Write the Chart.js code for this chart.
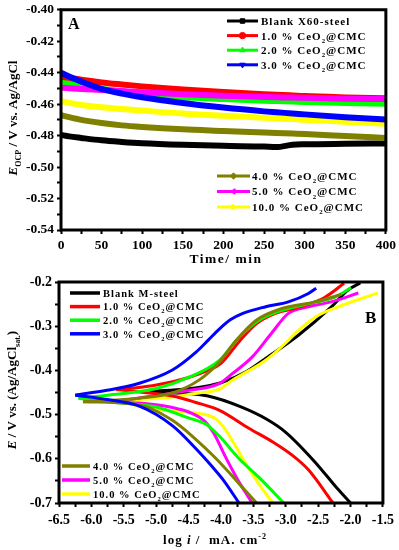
<!DOCTYPE html>
<html>
<head>
<meta charset="utf-8">
<script src="https://cdn.jsdelivr.net/npm/chart.js@4.4.0/dist/chart.umd.min.js"></script>
<style>
  html, body { margin: 0; padding: 0; background: #fff; }
  #wrap { position: relative; width: 399px; height: 550px; }
  canvas { position: absolute; left: 0; }
  #chartA { top: 0; }
  #chartB { top: 270px; }
</style>
</head>
<body>
<div id="wrap">
  <canvas id="chartA" width="399" height="270"></canvas>
  <canvas id="chartB" width="399" height="280"></canvas>
</div>
<script>
// ---- panel A: OCP vs time ----
var timeMin = [0, 10, 25, 50, 75, 100, 150, 200, 250, 265, 285, 300, 350, 400];
var ocpBlank = [-0.4795, -0.4805, -0.4815, -0.4830, -0.4840, -0.4848, -0.4858, -0.4865, -0.4870, -0.4873, -0.4858, -0.4855, -0.4852, -0.4850];
var ocp1 = [-0.4425, -0.4432, -0.4445, -0.4462, -0.4475, -0.4487, -0.4507, -0.4523, -0.4537, -0.4540, -0.4545, -0.4549, -0.4557, -0.4563];
var ocp2 = [-0.4455, -0.4465, -0.4480, -0.4503, -0.4518, -0.4532, -0.4555, -0.4568, -0.4578, -0.4580, -0.4583, -0.4586, -0.4592, -0.4597];
var ocp3 = [-0.4400, -0.4425, -0.4457, -0.4503, -0.4533, -0.4556, -0.4593, -0.4622, -0.4646, -0.4652, -0.4659, -0.4665, -0.4683, -0.4698];
var ocp4 = [-0.4670, -0.4683, -0.4700, -0.4720, -0.4735, -0.4745, -0.4760, -0.4770, -0.4780, -0.4783, -0.4787, -0.4790, -0.4803, -0.4815];
var ocp5 = [-0.4495, -0.4499, -0.4504, -0.4510, -0.4517, -0.4524, -0.4537, -0.4547, -0.4554, -0.4556, -0.4558, -0.4560, -0.4565, -0.4568];
var ocp10 = [-0.4580, -0.4592, -0.4605, -0.4620, -0.4631, -0.4641, -0.4660, -0.4674, -0.4686, -0.4690, -0.4695, -0.4699, -0.4712, -0.4725];

// ---- panel B: Tafel curves, [log i, E] from E_corr outwards ----
var blankAnodic = [[-5.10, -0.447], [-4.8, -0.445], [-4.4, -0.440], [-4.0, -0.428], [-3.6, -0.402], [-3.3, -0.372], [-2.8, -0.320], [-2.3, -0.257], [-2.04, -0.218], [-1.85, -0.202]];
var blankCathodic = [[-5.10, -0.447], [-4.7, -0.451], [-4.2, -0.458], [-3.7, -0.482], [-3.3, -0.510], [-3.0, -0.540], [-2.55, -0.607], [-2.2, -0.668], [-2.0, -0.700]];
var ce1Anodic = [[-5.62, -0.443], [-5.3, -0.439], [-5.0, -0.433], [-4.5, -0.416], [-4.2, -0.400], [-4.0, -0.384], [-3.72, -0.335], [-3.46, -0.295], [-3.16, -0.271], [-2.8, -0.257], [-2.4, -0.235], [-2.1, -0.203]];
var ce1Cathodic = [[-5.62, -0.443], [-5.25, -0.449], [-4.75, -0.458], [-4.4, -0.472], [-4.03, -0.490], [-3.57, -0.531], [-3.2, -0.562], [-2.9, -0.592], [-2.65, -0.625], [-2.27, -0.700]];
var ce2Anodic = [[-6.2, -0.463], [-5.76, -0.456], [-5.0, -0.441], [-4.5, -0.416], [-4.03, -0.378], [-3.72, -0.325], [-3.42, -0.287], [-3.06, -0.264], [-2.65, -0.249], [-2.24, -0.234], [-1.99, -0.213]];
var ce2Cathodic = [[-6.2, -0.463], [-5.76, -0.471], [-5.0, -0.483], [-4.49, -0.508], [-4.23, -0.522], [-4.03, -0.548], [-3.72, -0.600], [-3.42, -0.641], [-3.03, -0.700]];
var ce3Anodic = [[-6.25, -0.456], [-5.76, -0.445], [-5.26, -0.429], [-4.75, -0.399], [-4.38, -0.358], [-4.2, -0.332], [-4.03, -0.307], [-3.85, -0.285], [-3.68, -0.272], [-3.31, -0.256], [-2.96, -0.245], [-2.65, -0.226], [-2.53, -0.214]];
var ce3Cathodic = [[-6.25, -0.456], [-5.76, -0.466], [-5.26, -0.481], [-4.75, -0.525], [-4.4, -0.575], [-4.14, -0.617], [-3.98, -0.645], [-3.72, -0.700]];
var ce4Anodic = [[-6.13, -0.471], [-5.26, -0.463], [-4.75, -0.451], [-4.34, -0.422], [-4.03, -0.382], [-3.77, -0.333], [-3.46, -0.287], [-3.06, -0.260], [-2.54, -0.245], [-2.14, -0.228]];
var ce4Cathodic = [[-6.13, -0.471], [-5.26, -0.478], [-4.75, -0.513], [-4.38, -0.557], [-4.1, -0.596], [-3.85, -0.635], [-3.65, -0.668], [-3.45, -0.700]];
var ce5Anodic = [[-5.69, -0.471], [-5.0, -0.457], [-4.49, -0.445], [-4.03, -0.430], [-3.83, -0.408], [-3.52, -0.370], [-3.22, -0.316], [-2.96, -0.271], [-2.65, -0.256], [-2.30, -0.245], [-1.88, -0.225]];
var ce5Cathodic = [[-5.69, -0.471], [-5.26, -0.474], [-4.75, -0.484], [-4.45, -0.497], [-4.25, -0.515], [-4.1, -0.545], [-3.95, -0.590], [-3.75, -0.645], [-3.52, -0.700]];
var ce10Anodic = [[-5.55, -0.468], [-4.75, -0.460], [-4.34, -0.451], [-4.03, -0.443], [-3.83, -0.423], [-3.31, -0.377], [-3.0, -0.338], [-2.8, -0.309], [-2.54, -0.279], [-2.19, -0.256], [-1.58, -0.225]];
var ce10Cathodic = [[-5.55, -0.468], [-5.26, -0.482], [-4.75, -0.492], [-4.4, -0.496], [-4.1, -0.508], [-3.95, -0.530], [-3.8, -0.565], [-3.6, -0.615], [-3.4, -0.660], [-3.2, -0.700]];

var FONT = '"Liberation Serif", "Times New Roman", serif';

var seriesA = [
    {label: 'Blank X60-steel', values: ocpBlank, color: '#000000', marker: 'rect', rot: 0, order: 7},
    {label: '1.0 % CeO2@CMC', values: ocp1, color: '#ff0000', marker: 'circle', rot: 0, order: 3},
    {label: '2.0 % CeO2@CMC', values: ocp2, color: '#00ff00', marker: 'triangle', rot: 0, order: 4},
    {label: '3.0 % CeO2@CMC', values: ocp3, color: '#0000ff', marker: 'triangle', rot: 180, order: 1},
    {label: '4.0 % CeO2@CMC', values: ocp4, color: '#808000', marker: 'rectRot', rot: 0, order: 6},
    {label: '5.0 % CeO2@CMC', values: ocp5, color: '#ff00ff', marker: 'triangle', rot: -90, order: 2},
    {label: '10.0 % CeO2@CMC', values: ocp10, color: '#ffff00', marker: 'triangle', rot: 90, order: 5}
];

var seriesB = [
    {label: 'Blank M-steel', an: blankAnodic, ca: blankCathodic, color: '#000000', order: 7},
    {label: '1.0 % CeO2@CMC', an: ce1Anodic, ca: ce1Cathodic, color: '#ff0000', order: 4},
    {label: '2.0 % CeO2@CMC', an: ce2Anodic, ca: ce2Cathodic, color: '#00ff00', order: 3},
    {label: '3.0 % CeO2@CMC', an: ce3Anodic, ca: ce3Cathodic, color: '#0000ff', order: 1},
    {label: '4.0 % CeO2@CMC', an: ce4Anodic, ca: ce4Cathodic, color: '#808000', order: 2},
    {label: '5.0 % CeO2@CMC', an: ce5Anodic, ca: ce5Cathodic, color: '#ff00ff', order: 5},
    {label: '10.0 % CeO2@CMC', an: ce10Anodic, ca: ce10Cathodic, color: '#ffff00', order: 6}
];

// text helpers (subscripts / italics)
function partFont(style, size) {
    var small = style === 'sub' || style === 'sup';
    return (style === 'i' ? 'italic ' : '') + 'bold ' + (small ? size * 0.62 : size) + 'px ' + FONT;
}
function richWidth(ctx, parts, size) {
    var w = 0;
    parts.forEach(function (p) {
        ctx.font = partFont(p[1], size);
        w += ctx.measureText(p[0]).width;
    });
    return w;
}
function drawRich(ctx, parts, x, y, size) {
    parts.forEach(function (p) {
        ctx.font = partFont(p[1], size);
        var dy = p[1] === 'sub' ? size * 0.28 : (p[1] === 'sup' ? -size * 0.4 : 0);
        ctx.fillText(p[0], x, y + dy);
        x += ctx.measureText(p[0]).width;
    });
}
function labelParts(label) {
    var i = label.indexOf('CeO2');
    if (i < 0) return [[label, '']];
    return [[label.slice(0, i + 3), ''], ['2', 'sub'], [label.slice(i + 4), '']];
}

function decorPlugin(opts) {
    return {
        id: 'decor',
        afterDraw: function (chart) {
            var ctx = chart.ctx, a = chart.chartArea;
            ctx.save();
            ctx.strokeStyle = '#000';
            ctx.lineWidth = 3;
            ctx.strokeRect(a.left, a.top, a.right - a.left, a.bottom - a.top);

            ctx.fillStyle = '#000';
            ctx.textAlign = 'left';
            ctx.textBaseline = 'alphabetic';
            ctx.letterSpacing = '0px';
            ctx.font = 'bold ' + opts.letter.size + 'px ' + FONT;
            ctx.fillText(opts.letter.text, opts.letter.x, opts.letter.y);

            var t = opts.xTitle;
            ctx.letterSpacing = t.spacing;
            var w = richWidth(ctx, t.parts, t.size);
            drawRich(ctx, t.parts, t.x - w / 2, t.y, t.size);

            t = opts.yTitle;
            ctx.save();
            ctx.translate(t.x, t.y);
            ctx.rotate(-Math.PI / 2);
            ctx.letterSpacing = t.spacing;
            w = richWidth(ctx, t.parts, t.size);
            drawRich(ctx, t.parts, -w / 2, 0, t.size);
            ctx.restore();

            opts.legends.forEach(function (g) {
                g.items.forEach(function (idx, r) {
                    var s = opts.series[idx];
                    var y = g.y0 + r * g.dy;
                    ctx.strokeStyle = s.color;
                    ctx.fillStyle = s.color;
                    ctx.lineWidth = g.lw;
                    ctx.beginPath();
                    ctx.moveTo(g.x0, y);
                    ctx.lineTo(g.x1, y);
                    ctx.stroke();
                    if (s.marker) {
                        ctx.lineWidth = 1;
                        Chart.helpers.drawPoint(ctx, {pointStyle: s.marker, rotation: s.rot, radius: 3.2, borderWidth: 1}, (g.x0 + g.x1) / 2, y);
                    }
                    ctx.fillStyle = '#000';
                    ctx.letterSpacing = '1px';
                    drawRich(ctx, labelParts(s.label), g.tx, y + g.size * 0.36, g.size);
                });
            });
            ctx.restore();
        }
    };
}

function tickGrid() {
    return {display: true, drawOnChartArea: false, drawTicks: true, tickLength: 4, tickWidth: 2, tickColor: '#000'};
}

// ---- chart A ----
var dataA = seriesA.map(function (s) {
    return {
        label: s.label,
        data: timeMin.map(function (t, i) { return {x: t, y: s.values[i]}; }),
        borderColor: s.color,
        borderWidth: 6,
        pointRadius: 0,
        showLine: true,
        cubicInterpolationMode: 'monotone',
        order: s.order
    };
});

new Chart(document.getElementById('chartA'), {
    type: 'scatter',
    data: {datasets: dataA},
    options: {
        responsive: false,
        animation: false,
        events: [],
        layout: {padding: {top: 7, right: 12, left: 0, bottom: 0}},
        plugins: {legend: {display: false}, tooltip: {enabled: false}},
        scales: {
            x: {
                type: 'linear', min: 0, max: 400,
                grid: tickGrid(), border: {display: false},
                ticks: {
                    stepSize: 25, autoSkip: false, maxRotation: 0, padding: 3, color: '#000',
                    font: {family: FONT, size: 13.5, weight: 'bold'},
                    callback: function (v) { return v % 50 === 0 ? String(v) : ''; }
                },
                afterFit: function (scale) { scale.height = 40; }
            },
            y: {
                type: 'linear', min: -0.54, max: -0.40,
                grid: tickGrid(), border: {display: false},
                ticks: {
                    stepSize: 0.01, autoSkip: false, padding: 3, color: '#000',
                    font: {family: FONT, size: 13.5, weight: 'bold', lineHeight: 1},
                    callback: function (v) { return Math.round(v * 100) % 2 === 0 ? v.toFixed(2) : ''; }
                },
                afterFit: function (scale) { scale.width = 61; }
            }
        }
    },
    plugins: [decorPlugin({
        series: seriesA,
        letter: {text: 'A', x: 68, y: 29, size: 16},
        xTitle: {parts: [['Time/ min', '']], x: 226, y: 263, size: 13.5, spacing: '1.5px'},
        yTitle: {parts: [['E', 'i'], ['OCP', 'sub'], [' / V vs. Ag/AgCl', '']], x: 17, y: 118, size: 13, spacing: '0px'},
        legends: [
            {x0: 227, x1: 258, tx: 261, y0: 21, dy: 14.6, lw: 3, size: 11, items: [0, 1, 2, 3]},
            {x0: 217, x1: 250, tx: 252, y0: 176, dy: 15.5, lw: 3, size: 11, items: [4, 5, 6]}
        ]
    })]
});

// ---- chart B ----
var dataB = [];
seriesB.forEach(function (s) {
    [s.an, s.ca].forEach(function (branch) {
        dataB.push({
            label: s.label,
            data: branch.map(function (p) { return {x: p[0], y: p[1]}; }),
            borderColor: s.color,
            borderWidth: 3,
            pointRadius: 0,
            showLine: true,
            cubicInterpolationMode: 'monotone',
            order: s.order
        });
    });
});

new Chart(document.getElementById('chartB'), {
    type: 'scatter',
    data: {datasets: dataB},
    options: {
        responsive: false,
        animation: false,
        events: [],
        layout: {padding: {top: 12, right: 14, left: 0, bottom: 0}},
        plugins: {legend: {display: false}, tooltip: {enabled: false}},
        scales: {
            x: {
                type: 'linear', min: -6.5, max: -1.5,
                grid: tickGrid(), border: {display: false},
                ticks: {
                    stepSize: 0.25, autoSkip: false, maxRotation: 0, padding: 5, color: '#000',
                    font: {family: FONT, size: 14, weight: 'bold'},
                    callback: function (v) { return Math.round(v * 4) % 2 === 0 ? v.toFixed(1) : ''; }
                },
                afterFit: function (scale) { scale.height = 47; }
            },
            y: {
                type: 'linear', min: -0.7, max: -0.2,
                grid: tickGrid(), border: {display: false},
                ticks: {
                    stepSize: 0.05, autoSkip: false, padding: 3, color: '#000',
                    font: {family: FONT, size: 14, weight: 'bold', lineHeight: 1},
                    callback: function (v) { return Math.round(v * 20) % 2 === 0 ? v.toFixed(1) : ''; }
                },
                afterFit: function (scale) { scale.width = 59; }
            }
        }
    },
    plugins: [decorPlugin({
        series: seriesB,
        letter: {text: 'B', x: 365, y: 53, size: 17},
        xTitle: {parts: [['log ', ''], ['i', 'i'], [' /  mA. cm', ''], ['-2', 'sup']], x: 215, y: 274, size: 13, spacing: '1px'},
        yTitle: {parts: [['E', 'i'], [' / V vs. (Ag/AgCl', ''], ['sat.', 'sub'], [')', '']], x: 16, y: 120, size: 13, spacing: '0px'},
        legends: [
            {x0: 70, x1: 100, tx: 103, y0: 23, dy: 13.6, lw: 3.5, size: 10.5, items: [0, 1, 2, 3]},
            {x0: 62, x1: 90, tx: 93, y0: 196, dy: 14, lw: 3.5, size: 10.5, items: [4, 5, 6]}
        ]
    })]
});
</script>
</body>
</html>
